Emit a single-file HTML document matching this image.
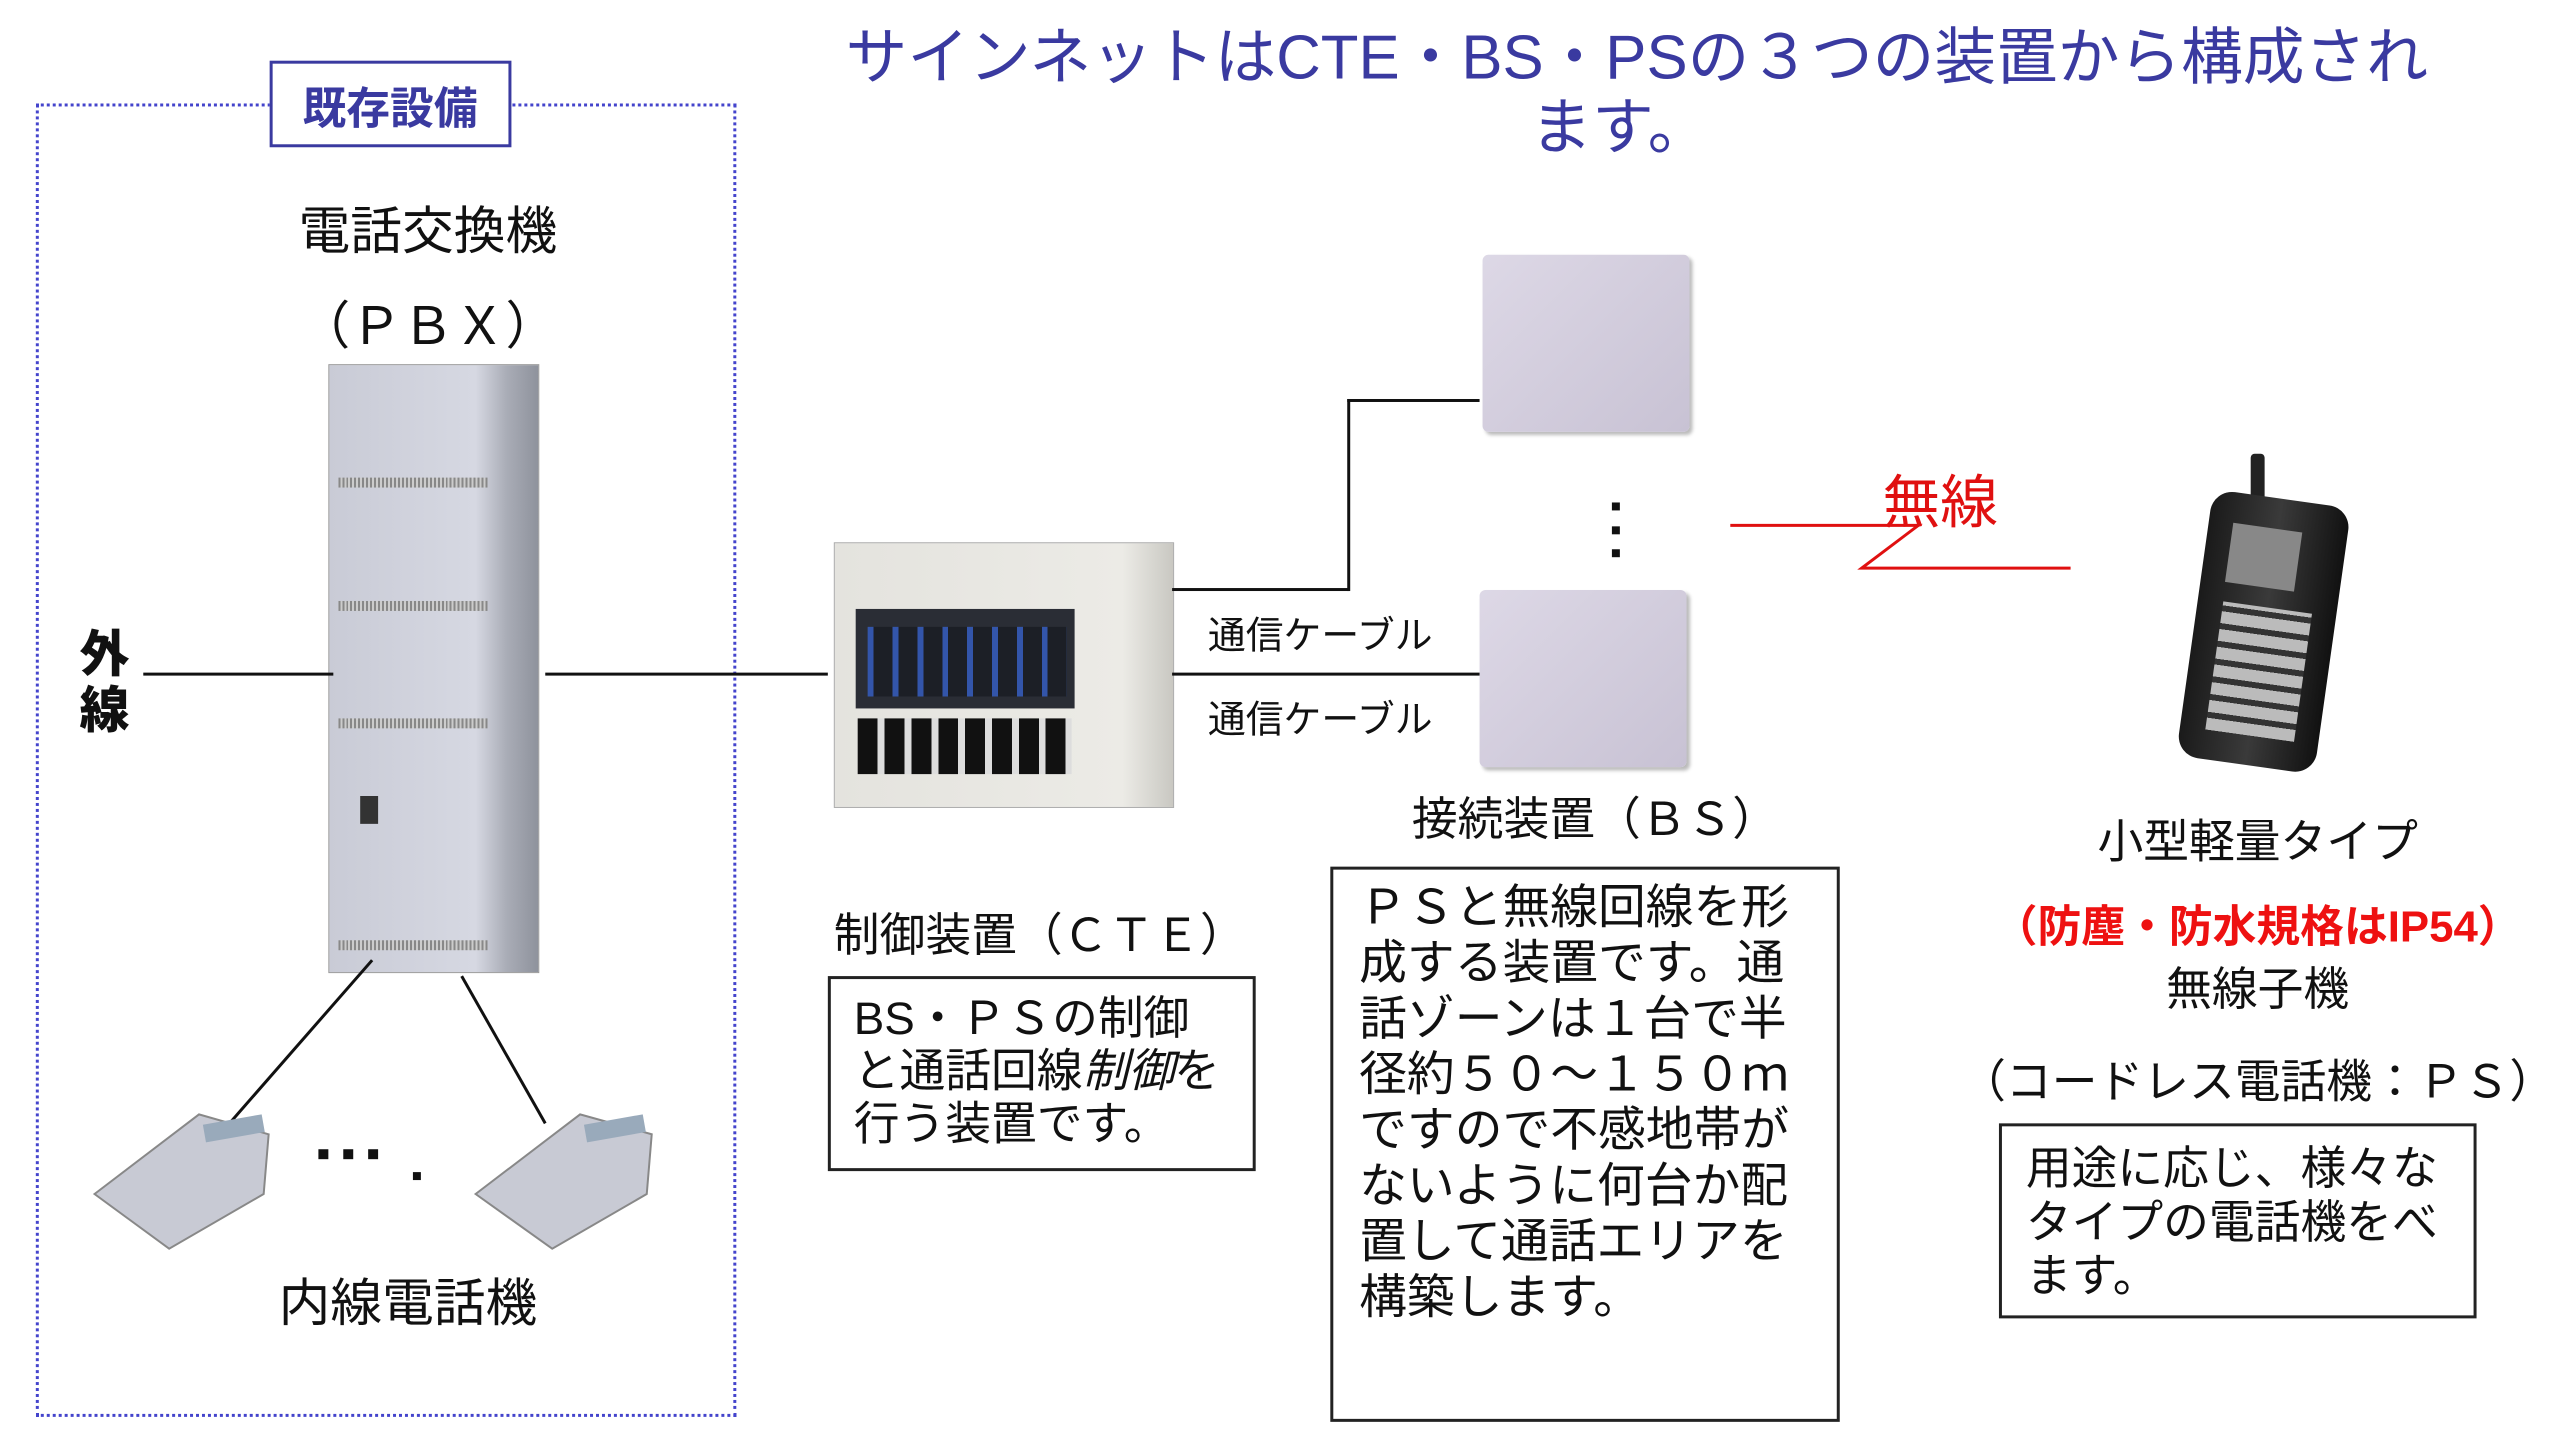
<!DOCTYPE html>
<html><head><meta charset="utf-8"><style>
body{margin:0;width:2560px;height:1446px;background:#fff;position:relative;overflow:hidden;font-family:"Liberation Sans","Noto Sans CJK JP",sans-serif;color:#111}
#w{position:absolute;left:0;top:0;width:2560px;height:1446px;transform:scale(0.995);transform-origin:0 0}
.a{position:absolute}
.t{position:absolute;white-space:nowrap;transform:translate(-50%,-50%)}
.box{position:absolute;border:3px solid #222;box-sizing:border-box;background:#fff}
.ln{position:absolute;background:#111}
</style></head><body><div id="w">
<div class="t" style="left:1645px;top:52px;font-size:62px;color:#3a3aa0">サインネットはCTE・BS・PSの３つの装置から構成され</div>
<div class="t" style="left:1628px;top:122px;font-size:62px;color:#3a3aa0">ます。</div>

<div class="a" style="left:36px;top:104px;width:704px;height:1320px;border:3px dotted #4444cc;box-sizing:border-box"></div>
<div class="a" style="left:271px;top:61px;width:243px;height:87px;border:3px solid #3a3aa0;background:#fff;box-sizing:border-box"></div>
<div class="t" style="left:392px;top:105px;font-size:44px;font-weight:bold;color:#3a3aa0">既存設備</div>
<div class="t" style="left:430px;top:228px;font-size:52px">電話交換機</div>
<div class="t" style="left:430px;top:323px;font-size:52px">（ＰＢＸ）</div>

<div class="a" style="left:330px;top:366px;width:210px;height:610px;background:linear-gradient(90deg,#c9cbd6 0,#d6d8e2 70%,#a9acb6 85%,#8e929c 100%);border:1px solid #999"></div>
<div class="a" style="left:340px;top:480px;width:150px;height:10px;background:repeating-linear-gradient(90deg,#888 0 2px,#ccc 2px 4px)"></div>
<div class="a" style="left:340px;top:604px;width:150px;height:10px;background:repeating-linear-gradient(90deg,#888 0 2px,#ccc 2px 4px)"></div>
<div class="a" style="left:340px;top:722px;width:150px;height:10px;background:repeating-linear-gradient(90deg,#888 0 2px,#ccc 2px 4px)"></div>
<div class="a" style="left:340px;top:945px;width:150px;height:10px;background:repeating-linear-gradient(90deg,#888 0 2px,#ccc 2px 4px)"></div>
<div class="a" style="left:362px;top:800px;width:18px;height:28px;background:#333"></div>

<div class="a" style="left:80px;top:630px;font-size:50px;font-weight:900;line-height:56px;width:56px">外<br>線</div>
<div class="ln" style="left:144px;top:676px;width:191px;height:3px"></div>
<div class="ln" style="left:548px;top:676px;width:284px;height:3px"></div>

<div class="a" style="left:838px;top:545px;width:340px;height:265px;background:linear-gradient(90deg,#e4e3de 0,#ecebe6 85%,#c9c8c2 100%);border:1px solid #aaa"></div>
<div class="a" style="left:860px;top:612px;width:220px;height:100px;background:#2a2d35"></div>
<div class="a" style="left:872px;top:630px;width:200px;height:70px;background:repeating-linear-gradient(90deg,#3355aa 0 6px,#1c1f26 6px 25px)"></div>
<div class="a" style="left:862px;top:722px;width:215px;height:56px;background:repeating-linear-gradient(90deg,#111 0 20px,#ddd 20px 27px)"></div>

<div class="ln" style="left:1178px;top:591px;width:178px;height:3px"></div>
<div class="ln" style="left:1354px;top:401px;width:3px;height:193px"></div>
<div class="ln" style="left:1354px;top:401px;width:133px;height:3px"></div>
<div class="ln" style="left:1178px;top:676px;width:310px;height:3px"></div>
<div class="a" style="left:1214px;top:608px;font-size:38px">通信ケーブル</div>
<div class="a" style="left:1214px;top:692px;font-size:38px">通信ケーブル</div>

<div class="a" style="left:1490px;top:256px;width:208px;height:178px;background:linear-gradient(135deg,#ddd8e6,#c8c2d4);border-radius:6px;box-shadow:3px 3px 4px #bbb"></div>
<div class="a" style="left:1487px;top:593px;width:208px;height:178px;background:linear-gradient(135deg,#ddd8e6,#c8c2d4);border-radius:6px;box-shadow:3px 3px 4px #bbb"></div>
<div class="a" style="left:1620px;top:505px;width:8px;height:8px;background:#111"></div>
<div class="a" style="left:1620px;top:529px;width:8px;height:8px;background:#111"></div>
<div class="a" style="left:1620px;top:552px;width:8px;height:8px;background:#111"></div>

<div class="t" style="left:1950px;top:500px;font-size:58px;color:#e01010">無線</div>
<svg class="a" style="left:0;top:0" width="2560" height="1446"><polyline points="1739,528 1928,528 1871,571 2081,571" fill="none" stroke="#e01010" stroke-width="3"/></svg>

<div class="a" style="left:2262px;top:456px;width:14px;height:60px;background:#222;border-radius:4px"></div>
<div class="a" style="left:2205px;top:500px;width:140px;height:270px;background:linear-gradient(90deg,#1a1a1a,#3a3a3a 50%,#111);border-radius:22px;transform:rotate(8deg)"></div>
<div class="a" style="left:2240px;top:530px;width:70px;height:60px;background:#888;transform:rotate(8deg)"></div>
<div class="a" style="left:2225px;top:610px;width:90px;height:130px;background:repeating-linear-gradient(0deg,#bbb 0 12px,#333 12px 18px);transform:rotate(8deg)"></div>

<div class="t" style="left:1603px;top:820px;font-size:46px">接続装置（ＢＳ）</div>
<div class="box" style="left:1337px;top:871px;width:512px;height:558px"></div>
<div class="a" style="left:1366px;top:885px;font-size:48px;line-height:56px">ＰＳと無線回線を形<br>成する装置です。通<br>話ゾーンは１台で半<br>径約５０～１５０ｍ<br>ですので不感地帯が<br>ないように何台か配<br>置して通話エリアを<br>構築します。</div>

<div class="t" style="left:1045px;top:937px;font-size:46px">制御装置（ＣＴＥ）</div>
<div class="box" style="left:832px;top:981px;width:430px;height:196px"></div>
<div class="a" style="left:858px;top:997px;font-size:46px;line-height:53px">BS・ＰＳの制御<br>と通話回線<i>制御</i>を<br>行う装置です。</div>

<div class="t" style="left:2269px;top:843px;font-size:46px">小型軽量タイプ</div>
<div class="t" style="left:2269px;top:927px;font-size:44px;color:#ee1111;font-weight:bold">（防塵・防水規格はIP54）</div>
<div class="t" style="left:2269px;top:991px;font-size:46px">無線子機</div>
<div class="t" style="left:2269px;top:1084px;font-size:46px">（コードレス電話機：ＰＳ）</div>
<div class="box" style="left:2009px;top:1129px;width:480px;height:196px"></div>
<div class="a" style="left:2036px;top:1147px;font-size:46px;line-height:54px">用途に応じ、様々な<br>タイプの電話機をべ<br>ます。</div>

<svg class="a" style="left:0;top:0" width="2560" height="1446">
<line x1="374" y1="965" x2="228" y2="1132" stroke="#111" stroke-width="3"/>
<line x1="464" y1="981" x2="548" y2="1129" stroke="#111" stroke-width="3"/>
<g fill="#c8cad4" stroke="#888" stroke-width="2">
<path d="M95,1200 L200,1120 L270,1140 L265,1200 L170,1255 Z"/>
<path d="M478,1200 L583,1120 L655,1140 L650,1200 L555,1255 Z"/>
</g>
<rect x="205" y="1125" width="60" height="18" fill="#9ab" transform="rotate(-10 235 1134)"/>
<rect x="588" y="1125" width="60" height="18" fill="#9ab" transform="rotate(-10 618 1134)"/>
<rect x="320" y="1155" width="10" height="10" fill="#111"/>
<rect x="345" y="1155" width="10" height="10" fill="#111"/>
<rect x="370" y="1155" width="10" height="10" fill="#111"/>
<rect x="415" y="1178" width="8" height="8" fill="#111"/>
</svg>
<div class="t" style="left:410px;top:1305px;font-size:52px">内線電話機</div>
</div></body></html>
